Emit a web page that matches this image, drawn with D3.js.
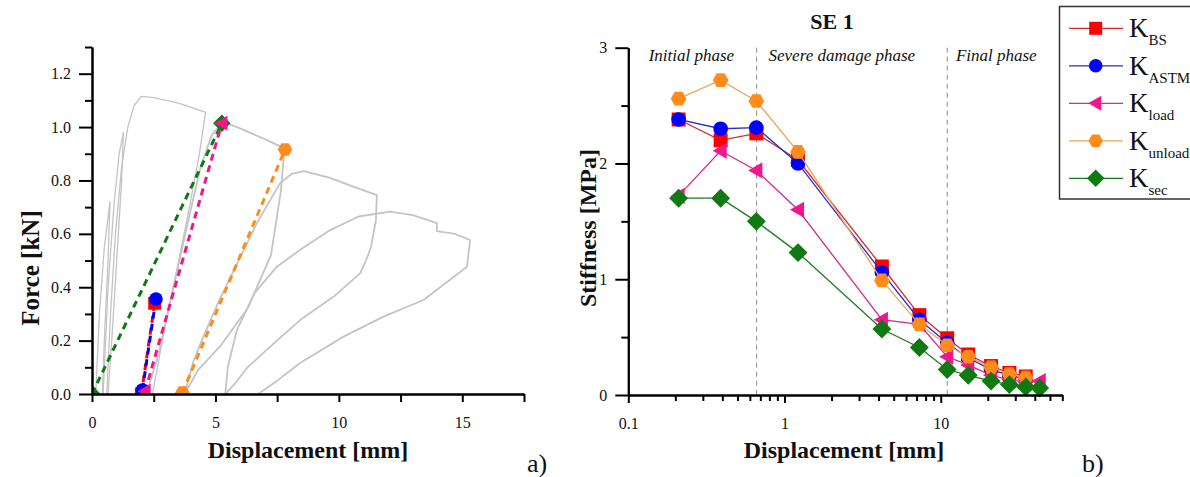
<!DOCTYPE html>
<html>
<head>
<meta charset="utf-8">
<script src="https://cdn.jsdelivr.net/npm/d3@7/dist/d3.min.js"></script>
<style>
  body { margin: 0; background: #fff; }
  text { font-family: "Liberation Serif", "Times New Roman", serif; fill: #111; }
</style>
</head>
<body>
<svg id="chart" width="1190" height="477"></svg>
<script>
// ---------- panel a) force - displacement ----------
var forceMajor = [0, 0.2, 0.4, 0.6, 0.8, 1.0, 1.2];
var forceMinor = [0.1, 0.3, 0.5, 0.7, 0.9, 1.1, 1.3];
var dispMajor = [0, 5, 10, 15];
var dispMinor = [2.5, 7.5, 12.5, 17.5];

// grey load cycles [displacement mm, force kN]
var cycleA = [[0.15, 0], [0.3, 0.3], [0.5, 0.55], [0.73, 0.72], [0.65, 0.5], [0.5, 0.2], [0.42, 0]];
var cycleB = [[0.45, 0], [0.65, 0.4], [0.9, 0.72], [1.1, 0.9], [1.27, 0.98], [1.2, 0.8], [1.0, 0.5], [0.8, 0.2], [0.65, 0]];
var cycle1 = [[0.6, 0], [0.75, 0.3], [0.95, 0.6], [1.2, 0.85], [1.45, 1.0], [1.7, 1.08], [2.0, 1.115], [2.5, 1.11],
              [3.0, 1.1], [3.5, 1.09], [4.0, 1.075], [4.6, 1.055], [4.35, 0.9], [3.95, 0.7], [3.4, 0.45], [2.95, 0.25],
              [2.55, 0.05], [2.45, 0]];
var cycle2 = [[2.2, 0], [2.7, 0.15], [3.3, 0.4], [3.9, 0.65], [4.4, 0.85], [4.85, 0.97], [5.3, 1.02], [6.0, 0.995],
              [7.0, 0.955], [7.8, 0.92], [7.65, 0.76], [7.25, 0.52], [6.3, 0.32], [5.2, 0.18], [4.3, 0.09], [3.75, 0]];
var cycle3 = [[3.75, 0], [4.1, 0.12], [4.51, 0.215], [5.1, 0.34], [5.73, 0.46], [6.68, 0.64], [7.62, 0.79], [8.1, 0.825],
              [8.57, 0.835], [9.65, 0.81], [10.5, 0.78], [11.54, 0.745], [11.5, 0.65], [11.3, 0.55], [11.1, 0.5],
              [10.86, 0.452], [9.78, 0.364], [8.43, 0.277], [7.49, 0.2], [6.3, 0.1], [5.8, 0.04], [5.4, 0]];
var cycle4 = [[5.4, 0], [5.5, 0.1], [5.87, 0.24], [6.6, 0.38], [7.49, 0.477], [8.43, 0.54], [9.65, 0.614], [10.8, 0.665],
              [12.08, 0.683], [13.0, 0.67], [13.97, 0.64], [13.97, 0.61], [14.7, 0.6], [15.32, 0.577], [15.19, 0.477],
              [13.43, 0.352], [11.81, 0.29], [10.19, 0.215], [8.43, 0.116], [7.5, 0.05], [6.73, 0]];

// secant lines used for each stiffness definition
var secSec = [[0, 0], [5.26, 1.014]];
var secBS = [[2.0, 0.0], [2.54, 0.34]];
var secASTM = [[2.04, 0.015], [2.59, 0.356]];
var secLoad = [[2.15, 0.01], [5.26, 1.014]];
var secUnload = [[3.66, 0.005], [7.82, 0.916]];

// ---------- panel b) stiffness - displacement ----------
var stiffDisp = [0.21, 0.39, 0.66, 1.22, 4.2, 7.3, 11, 15, 21, 27.5, 35, 43];
var kBS = [2.38, 2.20, 2.26, 2.03, 1.11, 0.69, 0.49, 0.35, 0.25, 0.19, 0.16];
var kASTM = [2.38, 2.30, 2.31, 2.00, 1.06, 0.65, 0.45, 0.32, 0.22, 0.17, 0.14];
var kLoad = [1.72, 2.11, 1.94, 1.60, 0.65, 0.61, 0.33, 0.26, 0.17, 0.13, 0.11, 0.12];
var kUnload = [2.56, 2.72, 2.54, 2.10, 0.99, 0.61, 0.43, 0.33, 0.24, 0.18, 0.15];
var kSec = [1.70, 1.70, 1.50, 1.23, 0.57, 0.41, 0.22, 0.17, 0.12, 0.09, 0.07, 0.06];
var stiffMajor = [0, 1, 2, 3];
var stiffMinor = [0.5, 1.5, 2.5];
var logMajor = [0.1, 1, 10];
var logMinor = [0.2, 0.3, 0.4, 0.5, 0.6, 0.7, 0.8, 0.9, 2, 3, 4, 5, 6, 7, 8, 9, 20, 30, 40, 50, 60];
var phaseBounds = [0.663, 11];
var phaseNames = ["Initial phase", "Severe damage phase", "Final phase"];

var series = [
  { name: "BS", vals: kBS, shape: "square", line: "#d42b2b", fill: "#ff0000" },
  { name: "ASTM", vals: kASTM, shape: "circle", line: "#2b2bd4", fill: "#0000ff" },
  { name: "load", vals: kLoad, shape: "triangle", line: "#d62a8c", fill: "#f0168c" },
  { name: "unload", vals: kUnload, shape: "hexagon", line: "#eaa55a", fill: "#ff8c1a" },
  { name: "sec", vals: kSec, shape: "diamond", line: "#1f7a1f", fill: "#0f7a12" }
];

var svg = d3.select("#chart");
var serif = "'Liberation Serif', 'Times New Roman', serif";

// marker path centred at 0,0
function marker(shape, s) {
  if (shape === "square") return "M" + (-s) + "," + (-s) + "h" + 2 * s + "v" + 2 * s + "h" + (-2 * s) + "Z";
  if (shape === "circle") return d3.symbol(d3.symbolCircle, Math.PI * s * s * 1.1)();
  if (shape === "triangle") {
    var r = s * 1.15;
    return "M" + (-r) + ",0L" + (r * 0.75) + "," + (-r) + "L" + (r * 0.75) + "," + r + "Z";
  }
  if (shape === "diamond") {
    var d = s * 1.35;
    return "M0," + (-d) + "L" + d + ",0L0," + d + "L" + (-d) + ",0Z";
  }
  if (shape === "hexagon") {
    var h = s * 1.12, pts = [];
    for (var i = 0; i < 6; i++) {
      var a = Math.PI / 3 * i;
      pts.push([h * Math.cos(a), h * Math.sin(a)]);
    }
    return "M" + pts.map(p => p.join(",")).join("L") + "Z";
  }
}

function styleAxis(g) {
  g.attr("font-family", null);
  g.select(".domain").attr("stroke", "#000").attr("stroke-width", 2);
  g.selectAll(".tick line").attr("stroke", "#000").attr("stroke-width", 2);
  g.selectAll(".tick text").style("font-family", serif).style("font-size", "16px").attr("fill", "#111");
}

// ================= panel a =================
var xa = d3.scaleLinear().domain([0, 17.5]).range([92, 524]);
var ya = d3.scaleLinear().domain([0, 1.3]).range([394, 47]);

svg.append("clipPath").attr("id", "clipA")
   .append("rect").attr("x", 92).attr("y", 40).attr("width", 432).attr("height", 354);

var pa = svg.append("g").attr("clip-path", "url(#clipA)");
var lineA = d3.line().x(d => xa(d[0])).y(d => ya(d[1]));

[cycleA, cycleB, cycle1, cycle2, cycle3, cycle4].forEach(function(c, i) {
  pa.append("path").datum(c)
    .attr("d", lineA)
    .attr("fill", "none")
    .attr("stroke", "#c4c4c4")
    .attr("stroke-width", i >= 3 ? 1.8 : 1.3)
    .attr("stroke-linejoin", "round");
});

var secants = [
  { pts: secSec, s: series[4] },
  { pts: secBS, s: series[0] },
  { pts: secASTM, s: series[1] },
  { pts: secLoad, s: series[2] },
  { pts: secUnload, s: series[3] }
];
secants.forEach(function(k) {
  pa.append("path").datum(k.pts)
    .attr("d", lineA)
    .attr("fill", "none")
    .attr("stroke", k.s.fill)
    .attr("stroke-width", 3)
    .attr("stroke-dasharray", "7,5");
});
secants.forEach(function(k) {
  pa.selectAll(null).data(k.pts).enter().append("path")
    .attr("d", marker(k.s.shape, 6.5))
    .attr("transform", d => "translate(" + xa(d[0]) + "," + ya(d[1]) + ")")
    .attr("fill", k.s.fill);
});

svg.append("g").attr("transform", "translate(0,394)")
   .call(d3.axisBottom(xa).tickValues(dispMinor).tickSize(8).tickSizeOuter(0).tickFormat(""))
   .call(styleAxis);
svg.append("g").attr("transform", "translate(0,394)")
   .call(d3.axisBottom(xa).tickValues(dispMajor).tickSize(8).tickPadding(15).tickSizeOuter(0).tickFormat(d3.format("d")))
   .call(styleAxis);
svg.append("g").attr("transform", "translate(92,0)")
   .call(d3.axisLeft(ya).tickValues(forceMinor).tickSize(7).tickSizeOuter(0).tickFormat(""))
   .call(styleAxis);
svg.append("g").attr("transform", "translate(92,0)")
   .call(d3.axisLeft(ya).tickValues(forceMajor).tickSize(13).tickPadding(8).tickSizeOuter(0).tickFormat(d3.format(".1f")))
   .call(styleAxis);

svg.append("text").attr("x", 308).attr("y", 458).attr("text-anchor", "middle")
   .attr("font-size", 24).attr("font-weight", "bold").text("Displacement [mm]");
svg.append("text").attr("transform", "translate(39,268) rotate(-90)").attr("text-anchor", "middle")
   .attr("font-size", 25).attr("font-weight", "bold").text("Force [kN]");
svg.append("text").attr("x", 527).attr("y", 472).attr("font-size", 26).text("a)");

// ================= panel b =================
var xb = d3.scaleLog().domain([0.1, 60]).range([628.3, 1062.3]);
var yb = d3.scaleLinear().domain([0, 3]).range([395, 47.7]);

var pb = svg.append("g");
phaseBounds.forEach(function(v) {
  pb.append("line")
    .attr("x1", xb(v)).attr("x2", xb(v))
    .attr("y1", yb(3)).attr("y2", yb(0))
    .attr("stroke", "#8c8c8c").attr("stroke-width", 1).attr("stroke-dasharray", "5,4");
});
var phaseX = [0.135, 0.79, 12.5];
phaseNames.forEach(function(n, i) {
  pb.append("text").attr("x", xb(phaseX[i])).attr("y", 61)
    .attr("font-size", 17).attr("font-style", "italic").text(n);
});

var lineB = d3.line().x(d => xb(d[0])).y(d => yb(d[1]));
series.forEach(function(s) {
  var pts = s.vals.map((v, i) => [stiffDisp[i], v]);
  pb.append("path").datum(pts)
    .attr("d", lineB)
    .attr("fill", "none")
    .attr("stroke", s.line)
    .attr("stroke-width", 1.3);
  pb.selectAll(null).data(pts).enter().append("path")
    .attr("d", marker(s.shape, 7))
    .attr("transform", d => "translate(" + xb(d[0]) + "," + yb(d[1]) + ")")
    .attr("fill", s.fill);
});

svg.append("g").attr("transform", "translate(0,395)")
   .call(d3.axisBottom(xb).tickValues(logMinor).tickSize(6).tickSizeOuter(0).tickFormat(""))
   .call(styleAxis);
svg.append("g").attr("transform", "translate(0,395)")
   .call(d3.axisBottom(xb).tickValues(logMajor).tickSize(8).tickPadding(15).tickSizeOuter(0).tickFormat(d => String(d)))
   .call(styleAxis);
svg.append("g").attr("transform", "translate(628.3,0)")
   .call(d3.axisLeft(yb).tickValues(stiffMinor).tickSize(7).tickSizeOuter(0).tickFormat(""))
   .call(styleAxis);
svg.append("g").attr("transform", "translate(628.3,0)")
   .call(d3.axisLeft(yb).tickValues(stiffMajor).tickSize(13).tickPadding(8).tickSizeOuter(0).tickFormat(d3.format("d")))
   .call(styleAxis);

svg.append("text").attr("x", 844).attr("y", 458).attr("text-anchor", "middle")
   .attr("font-size", 24).attr("font-weight", "bold").text("Displacement [mm]");
svg.append("text").attr("transform", "translate(596,228) rotate(-90)").attr("text-anchor", "middle")
   .attr("font-size", 24).attr("font-weight", "bold").text("Stiffness [MPa]");
svg.append("text").attr("x", 832).attr("y", 29).attr("text-anchor", "middle")
   .attr("font-size", 22).attr("font-weight", "bold").text("SE 1");
svg.append("text").attr("x", 1082).attr("y", 472).attr("font-size", 26).text("b)");

// legend
var lg = svg.append("g");
lg.append("rect").attr("x", 1059.5).attr("y", 6.5).attr("width", 140).attr("height", 192.5)
  .attr("fill", "#fff").attr("stroke", "#333").attr("stroke-width", 1.5);
series.forEach(function(s, i) {
  var cy = 28.3 + i * 37.5;
  lg.append("line").attr("x1", 1069).attr("x2", 1123).attr("y1", cy).attr("y2", cy)
    .attr("stroke", s.line).attr("stroke-width", 1.3);
  lg.append("path").attr("d", marker(s.shape, 6.5))
    .attr("transform", "translate(1095.7," + cy + ")").attr("fill", s.fill);
  var t = lg.append("text").attr("x", 1129).attr("y", cy + 9).attr("font-size", 27);
  t.append("tspan").text("K");
  t.append("tspan").attr("dy", 8).attr("font-size", 15).text(s.name);
});
</script>
</body>
</html>
